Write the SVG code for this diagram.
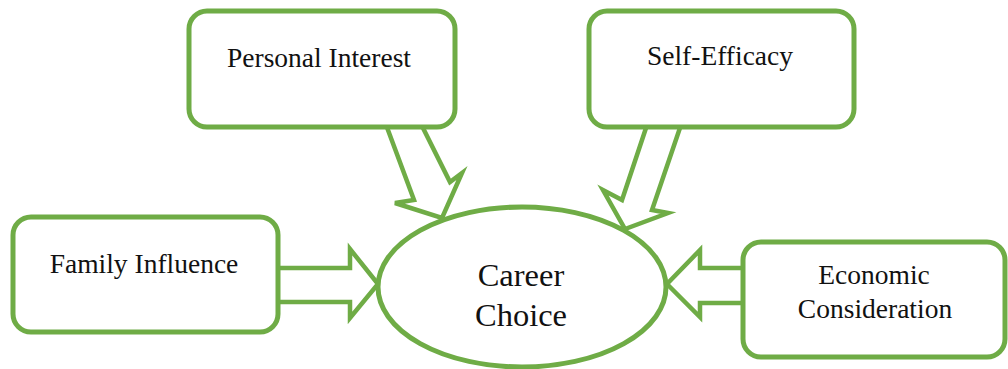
<svg xmlns="http://www.w3.org/2000/svg" width="1008" height="369" viewBox="0 0 1008 369">
<style>
.box{fill:#fff;stroke:#6FAC46;stroke-width:5}
.arr{fill:#fff;stroke:#6FAC46;stroke-width:4.5;stroke-linejoin:miter}
.t{font-family:"Liberation Serif","Times New Roman",serif;font-size:27.5px;fill:#111;text-anchor:middle}
.tc{font-family:"Liberation Serif","Times New Roman",serif;font-size:32.5px;fill:#111;text-anchor:middle}
</style>
<rect width="1008" height="369" fill="#fff"/>
<g id="connectors">
<polygon class="arr" points="385,122 414,200 395,203 442,218 462,173 450,182 420,122"/>
<polygon class="arr" points="648,122 622,200 603,190 625,229 668,213 652,210 682,122"/>
<polygon class="arr" points="270,268 350,268 350,249 378,284 350,318 350,302 270,302"/>
<polygon class="arr" points="750,268 700,268 700,250 667,284 700,317 700,303 750,303"/>
</g>
<g id="career"><ellipse class="box" cx="522" cy="287" rx="144" ry="80"/>
<text class="tc" x="521" y="286">Career</text><text class="tc" x="521" y="326">Choice</text></g>
<g id="personal"><rect class="box" x="189" y="11" width="266" height="116" rx="18"/>
<text class="t" x="319" y="67">Personal Interest</text></g>
<g id="selfeff"><rect class="box" x="589" y="11" width="265" height="116" rx="18"/>
<text class="t" x="720" y="65">Self-Efficacy</text></g>
<g id="family"><rect class="box" x="13" y="217" width="265" height="115" rx="18"/>
<text class="t" x="144" y="273">Family Influence</text></g>
<g id="economic"><rect class="box" x="743" y="242" width="262" height="115" rx="18"/>
<text class="t" x="874" y="284">Economic</text><text class="t" x="875" y="318">Consideration</text></g>
</svg>
